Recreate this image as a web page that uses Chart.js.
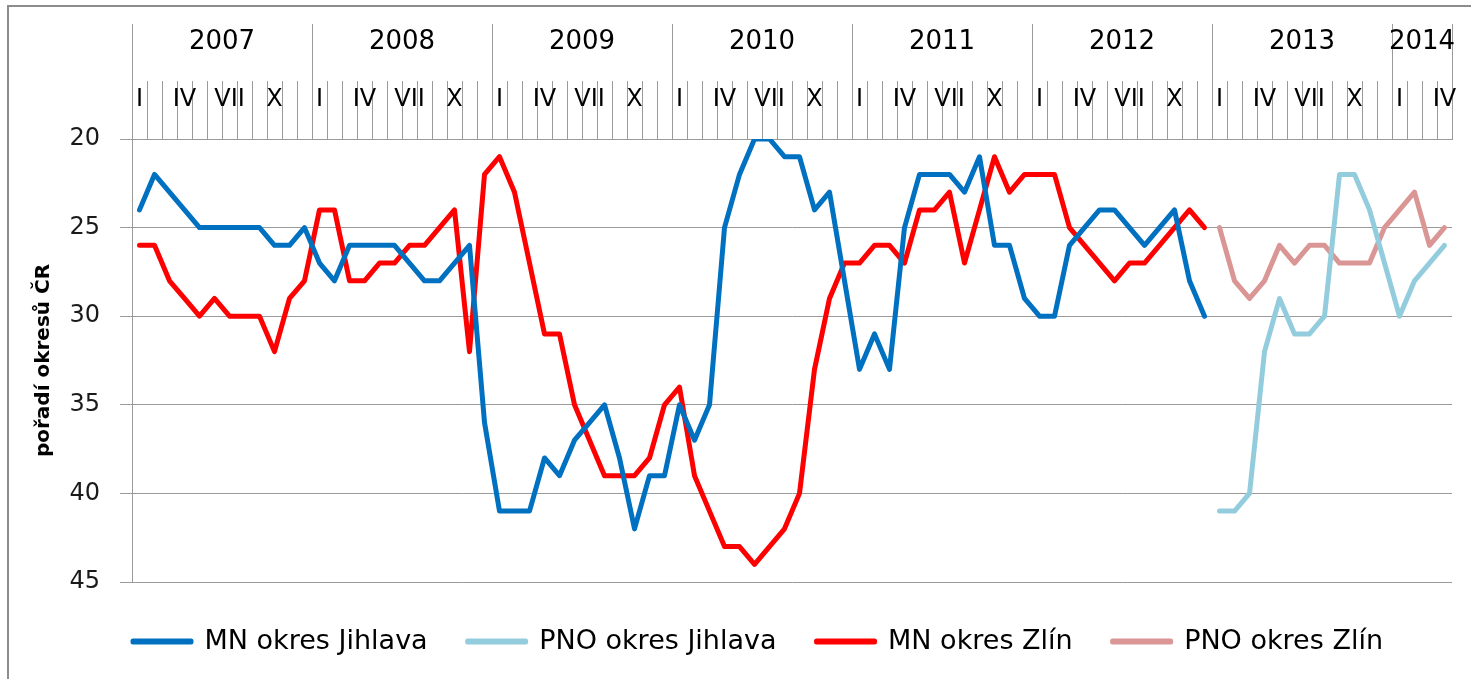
<!DOCTYPE html>
<html>
<head>
<meta charset="utf-8">
<script src="https://cdn.jsdelivr.net/npm/chart.js@4"></script>
<style>
  html, body { margin: 0; padding: 0; overflow: hidden; background: #fff; }
  #frame { position: absolute; left: 7px; top: 5px; width: 2000px; height: 2000px; border: 2px solid #8c8c8c; }
  #wrap { position: absolute; left: 0; top: 0; width: 1471px; height: 679px; }
</style>
</head>
<body>
<div id="frame"></div>
<div id="wrap"><canvas id="chart"></canvas></div>
<script>
const years = ['2007', '2008', '2009', '2010', '2011', '2012', '2013', '2014'];
const monthMarks = ['I', '', '', 'IV', '', '', 'VII', '', '', 'X', '', ''];
const monthsIn2014 = 4;

// pořadí okresu, měsíčně od I/2007
const mnJihlava = [
    24, 22, 23, 24, 25, 25, 25, 25, 25, 26, 26, 25,
    27, 28, 26, 26, 26, 26, 27, 28, 28, 27, 26, 36,
    41, 41, 41, 38, 39, 37, 36, 35, 38, 42, 39, 39,
    35, 37, 35, 25, 22, 20, 20, 21, 21, 24, 23, 28,
    33, 31, 33, 25, 22, 22, 22, 23, 21, 26, 26, 29,
    30, 30, 26, 25, 24, 24, 25, 26, 25, 24, 28, 30
];
const mnZlin = [
    26, 26, 28, 29, 30, 29, 30, 30, 30, 32, 29, 28,
    24, 24, 28, 28, 27, 27, 26, 26, 25, 24, 32, 22,
    21, 23, 27, 31, 31, 35, 37, 39, 39, 39, 38, 35,
    34, 39, 41, 43, 43, 44, 43, 42, 40, 33, 29, 27,
    27, 26, 26, 27, 24, 24, 23, 27, 24, 21, 23, 22,
    22, 22, 25, 26, 27, 28, 27, 27, 26, 25, 24, 25
];
// od I/2013
const pnoJihlava = [41, 41, 40, 32, 29, 31, 31, 30, 22, 22, 24, 27, 30, 28, 27, 26];
const pnoZlin = [25, 28, 29, 28, 26, 27, 26, 26, 27, 27, 27, 25, 24, 23, 26, 25];

const yMin = 20, yMax = 45, yStep = 5;

// build labels
const monthLabels = [];
const yearLabels = [];
years.forEach((y, yi) => {
    const n = yi === years.length - 1 ? monthsIn2014 : 12;
    for (let m = 0; m < n; m++) {
        monthLabels.push(monthMarks[m]);
        yearLabels.push(m === Math.floor(n / 2) ? y : '');
    }
});
const total = monthLabels.length;
const gapBefore = n => Array(n).fill(null);
const mnCount = mnJihlava.length;

const FONT = 'DejaVu Sans';
const GRID = '#9a9a9a';

// legenda je v originale posunuta doprava a niz
const shiftLegend = {
    id: 'shiftLegend',
    afterLayout(chart) {
        chart.legend.left += 22;
        chart.legend.right += 22;
        chart.legend.top += 6;
        chart.legend.bottom += 6;
    }
};

const ctx = document.getElementById('chart').getContext('2d');
const chart = new Chart(ctx, {
    type: 'line',
    data: {
        labels: monthLabels,
        datasets: [
            {
                label: 'MN okres Jihlava',
                data: mnJihlava.concat(gapBefore(total - mnCount)),
                borderColor: '#0070c0',
                backgroundColor: '#0070c0'
            },
            {
                label: 'PNO okres Jihlava',
                data: gapBefore(total - pnoJihlava.length).concat(pnoJihlava),
                borderColor: '#93cddd',
                backgroundColor: '#93cddd'
            },
            {
                label: 'MN okres Zlín',
                data: mnZlin.concat(gapBefore(total - mnCount)),
                borderColor: '#ff0000',
                backgroundColor: '#ff0000'
            },
            {
                label: 'PNO okres Zlín',
                data: gapBefore(total - pnoZlin.length).concat(pnoZlin),
                borderColor: '#d99694',
                backgroundColor: '#d99694'
            }
        ]
    },
    options: {
        responsive: true,
        maintainAspectRatio: false,
        animation: false,
        layout: { padding: { left: 20, right: 19, top: 24, bottom: 20 } },
        elements: {
            line: { borderWidth: 5, tension: 0, borderJoinStyle: 'round', borderCapStyle: 'round' },
            point: { radius: 0, hoverRadius: 0 }
        },
        plugins: {
            tooltip: { enabled: false },
            legend: {
                position: 'bottom',
                labels: {
                    boxWidth: 58,
                    boxHeight: 1,
                    padding: 40,
                    color: '#000',
                    font: { family: FONT, size: 27 }
                }
            }
        },
        scales: {
            x: {
                position: 'top',
                offset: true,
                grid: { offset: true, drawOnChartArea: false, tickLength: 58, color: GRID },
                border: { display: true, color: GRID },
                ticks: {
                    autoSkip: false, maxRotation: 0, minRotation: 0,
                    padding: -33, color: '#000',
                    font: { family: FONT, size: 24 }
                },
                afterFit: s => { s.height = 58; }
            },
            xYear: {
                type: 'category',
                position: 'top',
                weight: 1,
                labels: yearLabels,
                offset: true,
                grid: {
                    offset: true, drawOnChartArea: false, tickLength: 57,
                    color: c => (c.index === undefined || c.index % 12 === 0) ? GRID : 'rgba(0,0,0,0)'
                },
                border: { display: false },
                ticks: {
                    autoSkip: false, maxRotation: 0, minRotation: 0,
                    padding: -34, labelOffset: -7.5, color: '#000',
                    font: { family: FONT, size: 26 }
                },
                afterFit: s => { s.height = 57; }
            },
            y: {
                reverse: true,
                min: yMin,
                max: yMax,
                grid: { color: GRID, tickLength: 12 },
                border: { display: true, color: GRID },
                ticks: {
                    stepSize: yStep, padding: 20, color: '#1a1a1a',
                    font: { family: FONT, size: 24 }
                },
                title: {
                    display: true,
                    text: 'pořadí okresů ČR',
                    color: '#000',
                    padding: { top: 12, bottom: 0 },
                    font: { family: FONT, size: 20, weight: 'bold' }
                },
                afterFit: s => { s.width = 112; }
            }
        }
    },
    plugins: [shiftLegend]
});
</script>
</body>
</html>
